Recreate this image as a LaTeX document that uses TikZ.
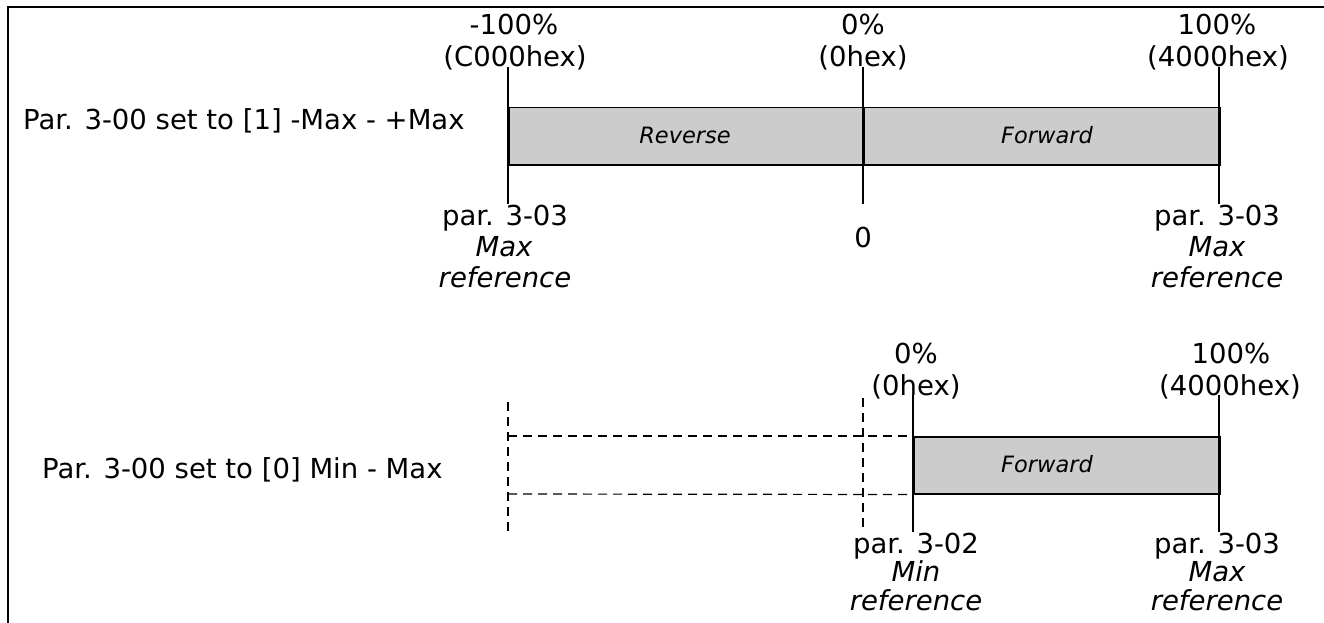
\documentclass[tikz,border=0pt]{standalone}
\usepackage{fontspec}
\setmainfont{DejaVu Sans}
\usetikzlibrary{positioning}
\definecolor{barfill}{HTML}{CCCCCC}

\begin{document}
\begin{tikzpicture}[
	x=1pt, y=-1pt,
	lbl/.style={anchor=base, inner sep=0pt, font=\fontsize{27.5}{31}\selectfont},
	ilbl/.style={lbl, font=\fontsize{27.5}{31}\selectfont\itshape},
	dirlbl/.style={anchor=base, inner sep=0pt, font=\fontsize{22.5}{26}\selectfont\itshape},
	bar/.style={draw, fill=barfill, line width=1.5pt, anchor=north west, inner sep=0pt, minimum height=57pt},
	tick/.style={draw, line width=1.2pt},
	guide/.style={draw, line width=1.2pt, dash pattern=on 9pt off 6pt}
]
\useasboundingbox (0,0) rectangle (1324,623);
\draw[line width=2.5pt] (8,623) -- (8,7) -- (1324,7);

\coordinate (xA) at (508,0);
\coordinate (xB) at (863,0);
\coordinate (xC) at (1219,0);
\coordinate (xD) at (913,0);

\node[bar, minimum width=355pt] (rev) at (508,107) {};
\node[bar, minimum width=356pt] (fwd) at (863,107) {};
\node[dirlbl] (revtxt) at (685,143) {Reverse};
\node[dirlbl] (fwdtxt) at (1047,143) {Forward};

\node[lbl, anchor=base west] (rowA) at (23,129) {Par. 3-00 set to [1] -Max - +Max};

\node[lbl] (pctA) at (514,35) {-100\%};
\node[lbl] (hexA) at (515,67) {(C000hex)};
\node[lbl] (pctB) at (863,35) {0\%};
\node[lbl] (hexB) at (863,67) {(0hex)};
\node[lbl] (pctC) at (1217,35) {100\%};
\node[lbl] (hexC) at (1218,67) {(4000hex)};

\node[lbl] (parA) at (505,225) {par. 3-03};
\node[ilbl] (maxA) at (504,256) {Max};
\node[ilbl] (refA) at (505,287) {reference};
\node[lbl] (zeroB) at (863,247) {0};
\node[lbl] (parC) at (1217,225) {par. 3-03};
\node[ilbl] (maxC) at (1217,256) {Max};
\node[ilbl] (refC) at (1217,287) {reference};

\draw[tick] (hexA.base -| xA) -- (parA.north -| xA);
\draw[tick] (hexB.base -| xB) -- (parA.north -| xB);
\draw[tick] (hexC.base -| xC) -- (parC.north -| xC);

\node[bar, minimum width=306pt] (fwdB) at (913,436) {};
\node[dirlbl] (fwdBtxt) at (1047,472) {Forward};
\node[lbl, anchor=base west] (rowB) at (42,478) {Par. 3-00 set to [0] Min - Max};

\node[lbl] (pctD) at (916,363) {0\%};
\node[lbl] (hexD) at (916,395) {(0hex)};
\node[lbl] (pctE) at (1231,363) {100\%};
\node[lbl] (hexE) at (1230,395) {(4000hex)};

\node[lbl] (parD) at (916,553) {par. 3-02};
\node[ilbl] (minD) at (916,581) {Min};
\node[ilbl] (refD) at (916,610) {reference};
\node[lbl] (parE) at (1217,553) {par. 3-03};
\node[ilbl] (maxE) at (1217,581) {Max};
\node[ilbl] (refE) at (1217,610) {reference};

\draw[tick] (hexD.base -| xD) -- (parD.north -| xD);
\draw[tick] (hexE.base -| xC) -- (parE.north -| xC);

\draw[guide] (508,402) -- (508,535);
\draw[guide] (863,398) -- (863,530);
\draw[guide] (508,436) -- (fwdB.north west);
\draw[guide] (508,494) -- (fwdB.south west);
\end{tikzpicture}
\end{document}
